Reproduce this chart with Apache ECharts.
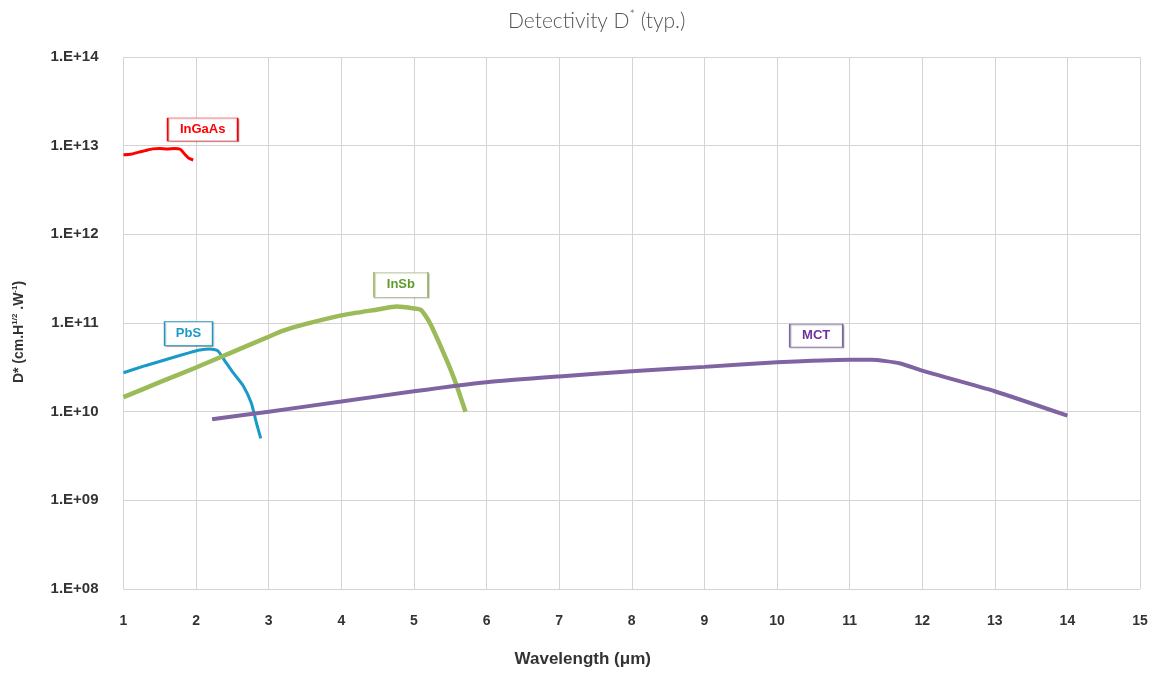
<!DOCTYPE html>
<html><head><meta charset="utf-8">
<script src="https://cdn.jsdelivr.net/npm/echarts@6/dist/echarts.min.js"></script>
<style>html,body{margin:0;padding:0;background:#fff}#c{width:1161px;height:675px}</style>
</head><body><div id="c"></div>
<script>
const xTicks = [1, 15];
const yRange = [1e8, 1e14];
const seriesNames = ['InGaAs', 'PbS', 'InSb', 'MCT'];
const ingaas = [[1.0,7.9e12],[1.1,8.0e12],[1.2,8.4e12],[1.3,8.8e12],[1.4,9.2e12],[1.5,9.3e12],[1.6,9.2e12],[1.7,9.3e12],[1.78,9.1e12],[1.85,7.9e12],[1.9,7.2e12],[1.96,6.9e12]];
const pbs = [[1.0,2.75e10],[1.3,3.3e10],[1.6,3.9e10],[1.9,4.6e10],[2.05,4.95e10],[2.19,5.1e10],[2.3,4.85e10],[2.4,3.7e10],[2.51,2.75e10],[2.65,1.95e10],[2.76,1.25e10],[2.83,7.5e9],[2.89,5.0e9]];
const insb = [[1.0,1.46e10],[1.5,2.15e10],[2.0,3.15e10],[2.5,4.7e10],[3.0,7.0e10],[3.2,8.2e10],[3.5,9.7e10],[4.0,1.22e11],[4.5,1.42e11],[4.76,1.53e11],[5.0,1.46e11],[5.1,1.40e11],[5.22,1.0e11],[5.47,3.5e10],[5.59,1.95e10],[5.71,1.0e10]];
const mct = [[2.22,8.2e9],[3,1.0e10],[4,1.3e10],[5,1.7e10],[6,2.15e10],[7,2.5e10],[8,2.85e10],[9,3.2e10],[10,3.6e10],[11,3.85e10],[11.3,3.85e10],[11.7,3.5e10],[12,2.9e10],[13,1.7e10],[14,9.0e9]];
const labelAnchors = [[2.09,1.52e13],[1.895,7.6e10],[4.82,2.7e11],[10.54,7.2e10]];

const colors = ['#ff0000', '#1b9ac8', '#9bbb59', '#8064a2'];
const textColors = ['#ff0000', '#1b9ac8', '#5f9a2e', '#7030a0'];
const widths = [3, 3, 4.5, 4];
const boxSizes = [[70,23],[48,24],[54,25],[53,23]];
const allData = [ingaas, pbs, insb, mct];

const chart = echarts.init(document.getElementById('c'), null, {renderer: 'canvas'});
const FONT = '"Liberation Sans", Arial, sans-serif';
chart.setOption({
  animation: false,
  title: {
    text: '{a|Detectivity D}{s|*}{a| (typ.)}',
    left: 503, top: 3,
    textStyle: {
      rich: {
        a: {fontFamily: 'Lato', fontWeight: 300, fontSize: 21, color: '#555', lineHeight: 26},
        s: {fontFamily: 'Lato', fontWeight: 300, fontSize: 13, color: '#555', lineHeight: 16, verticalAlign: 'top'}
      }
    }
  },
  grid: {left: 123.5, right: 21, top: 57, bottom: 86},
  xAxis: {
    type: 'value', min: xTicks[0], max: xTicks[1], interval: 1,
    name: 'Wavelength (μm)', nameLocation: 'middle', nameGap: 62,
    nameTextStyle: {fontFamily: FONT, fontWeight: 'bold', fontSize: 17, color: '#333', padding: [0, 98, 0, 0]},
    axisLine: {show: false}, axisTick: {show: false},
    axisLabel: {margin: 25, fontFamily: FONT, fontWeight: 'bold', fontSize: 14, color: '#333'},
    splitLine: {show: true, lineStyle: {color: '#d4d4d4', width: 1}}
  },
  yAxis: {
    type: 'log', logBase: 10, min: yRange[0], max: yRange[1],
    name: '{a|D* (cm.H}{s|1/2}{a| .W}{s|-1}{a|)}', nameLocation: 'middle', nameGap: 95,
    nameTextStyle: {
      padding: [0, 18, 0, 0],
      rich: {
        a: {fontFamily: FONT, fontWeight: 'bold', fontSize: 14, color: '#333', lineHeight: 18},
        s: {fontFamily: FONT, fontWeight: 'bold', fontSize: 8, color: '#333', lineHeight: 12, verticalAlign: 'top'}
      }
    },
    axisLine: {show: false}, axisTick: {show: false},
    axisLabel: {
      margin: 25, fontFamily: FONT, fontWeight: 'bold', fontSize: 15, color: '#333',
      formatter: v => { const e = Math.round(Math.log10(v)); return '1.E+' + (e < 10 ? '0' + e : '' + e); }
    },
    splitLine: {show: true, lineStyle: {color: '#d4d4d4', width: 1}}
  },
  series: seriesNames.map((n, i) => ({
    name: n, type: 'line', data: allData[i], showSymbol: false, smooth: 0.2,
    lineStyle: {color: colors[i], width: widths[i]}, itemStyle: {color: colors[i]},
    markPoint: {
      symbol: 'rect', symbolSize: boxSizes[i], silent: true,
      itemStyle: {color: '#fff', borderColor: colors[i], borderWidth: 1, opacity: 1,
        shadowColor: 'rgba(0,0,0,0.25)', shadowOffsetX: 1, shadowOffsetY: 1, shadowBlur: 1},
      label: {show: true, position: 'inside', formatter: n, color: textColors[i], fontFamily: FONT, fontWeight: 'bold', fontSize: 13},
      data: [{coord: labelAnchors[i]}]
    }
  }))
});
</script></body></html>
